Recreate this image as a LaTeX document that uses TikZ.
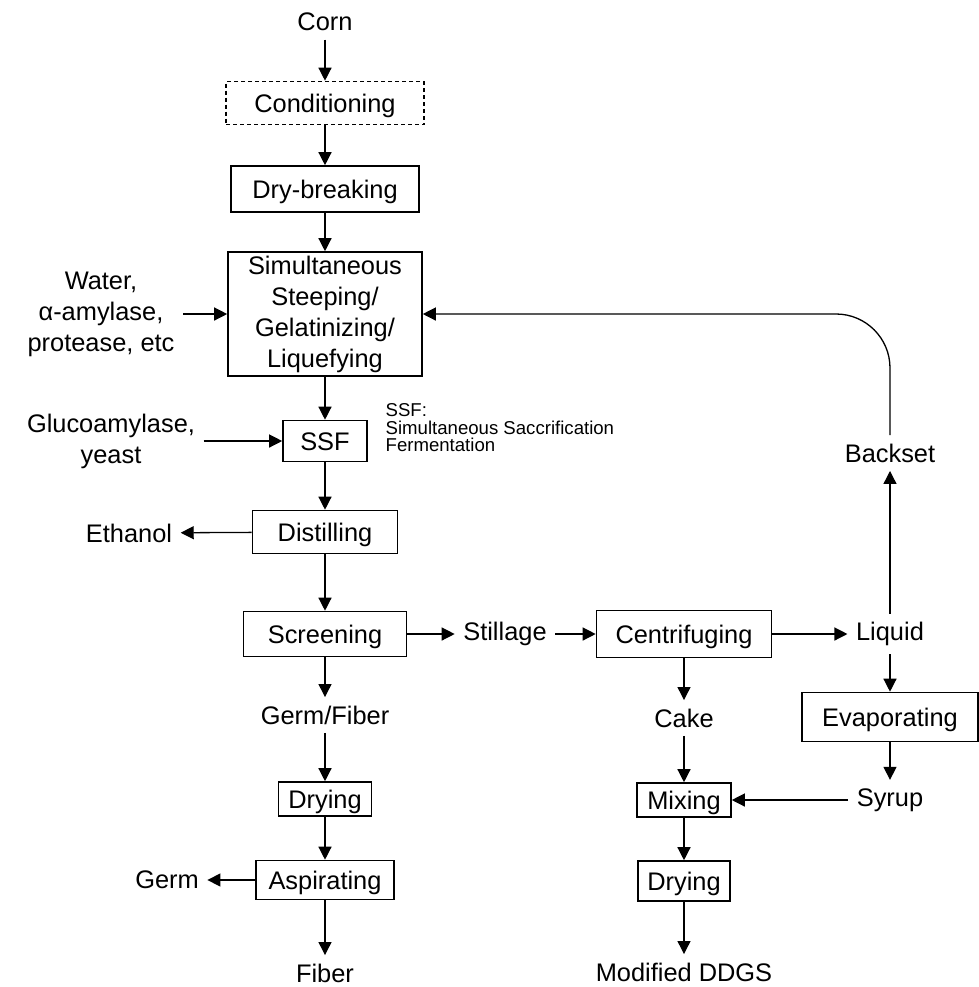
\documentclass[tikz,border=0pt]{standalone}
\usepackage{fontspec}
\setmainfont{Liberation Sans}
\usetikzlibrary{arrows.meta}

\begin{document}
\begin{tikzpicture}[x=0.5pt,y=-0.5pt,
    font=\fontsize{12.7}{15.5}\selectfont,
    >={Triangle[length=6.5pt,width=6.5pt]},
    line width=0.65pt,
    box/.style={draw, line width=0.8pt, inner sep=0pt, align=center},
    pbox/.style={box, text height=9pt, text depth=0pt},
    txt/.style={inner sep=4pt, align=center}]
        \useasboundingbox (0,0) rectangle (979,987);

        % main column
        \node[txt] (corn) at (325,22) {Corn};
        \node[pbox, dash pattern=on 2pt off 1.5pt, minimum width=99pt, minimum height=21.5pt] (cond) at (325,103) {Conditioning};
        \node[pbox, minimum width=94pt, minimum height=23pt] (dry) at (325,189) {Dry-breaking};
        \node[box, minimum width=97pt, minimum height=62pt] (sim) at (325,314) {Simultaneous\\Steeping/\\Gelatinizing/\\Liquefying};
        \node[txt] (water) at (101,314) {Water,\\α-amylase,\\protease, etc};
        \node[pbox, minimum width=42pt, minimum height=20.5pt] (ssf) at (325,441) {SSF};
        \node[txt] (gluco) at (111,441) {Glucoamylase,\\yeast};
        \node[anchor=north west, inner sep=0pt, align=left, font=\fontsize{9.3}{8.8}\selectfont] (note) at (385,403) {SSF:\\Simultaneous Saccrification\\Fermentation};
        \node[pbox, minimum width=72.5pt, minimum height=21.5pt] (dist) at (325,532) {Distilling};
        \node[txt] (ethanol) at (129,533) {Ethanol};
        \node[pbox, minimum width=81.5pt, minimum height=22.5pt] (screen) at (325,634) {Screening};
        \node[txt] (germfib) at (325,715) {Germ/Fiber};
        \node[pbox, minimum width=46.5pt, minimum height=17pt] (dry1) at (325,799) {Drying};
        \node[pbox, minimum width=69pt, minimum height=19.5pt] (asp) at (325,880) {Aspirating};
        \node[txt] (germ) at (167,880) {Germ};
        \node[txt] (fiber) at (325,973) {Fiber};

        % middle column
        \node[txt] (still) at (505,634) {Stillage};
        \node[pbox, minimum width=87.5pt, minimum height=23.5pt] (centr) at (684,634) {Centrifuging};
        \node[txt] (cake) at (684,718) {Cake};
        \node[pbox, minimum width=47pt, minimum height=17pt] (mix) at (684,800) {Mixing};
        \node[pbox, minimum width=46pt, minimum height=20pt] (dry2) at (684,881) {Drying};
        \node[txt] (ddgs) at (684,972) {Modified DDGS};

        % right column
        \node[txt] (liquid) at (890,634) {Liquid};
        \node[txt] (backset) at (890,453) {Backset};
        \node[pbox, minimum width=88pt, minimum height=24.5pt] (evap) at (890,717) {Evaporating};
        \node[txt] (syrup) at (890,800) {Syrup};

        \draw[->] (corn) -- (cond);
        \draw[->] (cond) -- (dry);
        \draw[->] (dry) -- (sim);
        \draw[->] (water) -- (sim);
        \draw[->] (sim) -- (ssf);
        \draw[->] (gluco) -- (ssf);
        \draw[->] (ssf) -- (dist);
        \draw[->] (dist) -- (ethanol);
        \draw[->] (dist) -- (screen);
        \draw[->] (screen) -- (still);
        \draw[->] (still) -- (centr);
        \draw[->] (centr) -- (liquid);
        \draw[->] (liquid) -- (backset);
        \draw[->, rounded corners=27pt] (backset) |- (sim);
        \draw[->] (liquid) -- (evap);
        \draw[->] (evap) -- (syrup);
        \draw[->] (syrup) -- (mix);
        \draw[->] (screen) -- (germfib);
        \draw[->] (germfib) -- (dry1);
        \draw[->] (dry1) -- (asp);
        \draw[->] (asp) -- (germ);
        \draw[->] (asp) -- (fiber);
        \draw[->] (centr) -- (cake);
        \draw[->] (cake) -- (mix);
        \draw[->] (mix) -- (dry2);
        \draw[->] (dry2) -- (ddgs);
\end{tikzpicture}
\end{document}
